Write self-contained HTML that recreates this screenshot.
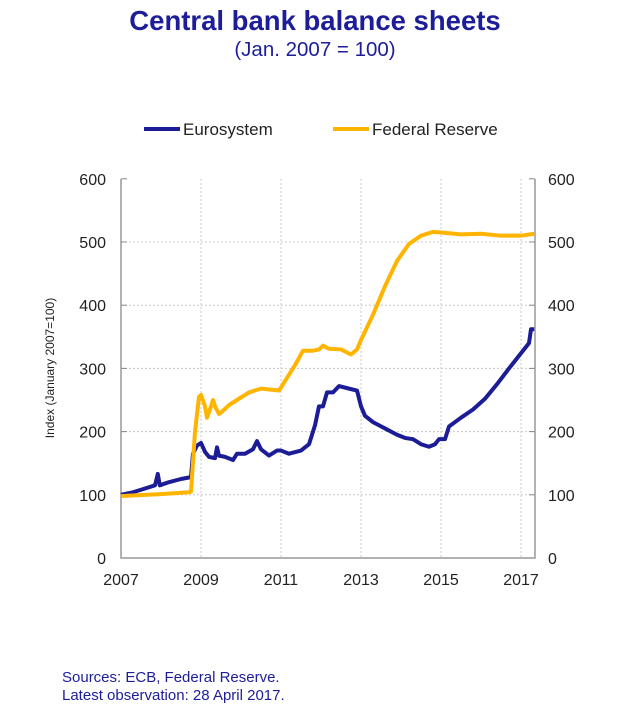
<!DOCTYPE html>
<html><head><meta charset="utf-8"><style>
body{margin:0;background:#fff;font-family:"Liberation Sans",sans-serif}
svg{display:block}
</style></head><body>
<svg id="chart" width="635" height="714">
<text x="315" y="30" text-anchor="middle" font-size="27.5" font-weight="bold" fill="#1d1d9a">Central bank balance sheets</text>
<text x="315" y="56" text-anchor="middle" font-size="20.5" fill="#1d1d9a">(Jan. 2007 = 100)</text>
<g>
<line x1="144" y1="129" x2="180" y2="129" stroke="#1c1c96" stroke-width="4"/>
<text x="183" y="135" font-size="17" fill="#222">Eurosystem</text>
<line x1="333" y1="129" x2="369" y2="129" stroke="#ffb400" stroke-width="4"/>
<text x="372" y="135" font-size="17" fill="#222">Federal Reserve</text>
</g>
<text transform="translate(54,368) rotate(-90)" text-anchor="middle" font-size="12" fill="#222">Index (January 2007=100)</text>
<g id="grid"></g><g id="axes"></g><g id="series"></g>
<text x="62" y="682" font-size="15" fill="#1d1d9a">Sources: ECB, Federal Reserve.</text>
<text x="62" y="700" font-size="15" fill="#1d1d9a">Latest observation: 28 April 2017.</text>
</svg>
<script>
const yTicks=[0,100,200,300,400,500,600];
const xTicks=[2007,2009,2011,2013,2015,2017];
const fedDates=[2007.0,2008.0,2008.7,2008.75,2008.85,2008.95,2009.0,2009.1,2009.15,2009.25,2009.3,2009.35,2009.45,2009.55,2009.7,2009.9,2010.2,2010.5,2010.8,2010.95,2011.1,2011.35,2011.55,2011.8,2011.95,2012.05,2012.2,2012.5,2012.75,2012.9,2013.0,2013.3,2013.6,2013.9,2014.2,2014.5,2014.8,2015.0,2015.5,2016.0,2016.5,2017.0,2017.33];
const fedValues=[98,101,104,105,200,255,258,240,222,240,250,240,228,233,242,250,262,268,266,265,280,305,328,328,330,336,331,330,322,330,345,385,430,470,497,510,516,515,512,513,510,510,513];
const euroDates=[2007.0,2007.3,2007.6,2007.85,2007.92,2007.97,2008.2,2008.5,2008.75,2008.8,2008.9,2009.0,2009.1,2009.2,2009.35,2009.4,2009.45,2009.6,2009.8,2009.9,2010.1,2010.3,2010.4,2010.5,2010.7,2010.9,2011.0,2011.2,2011.5,2011.7,2011.85,2011.95,2012.05,2012.15,2012.3,2012.45,2012.7,2012.9,2013.0,2013.1,2013.3,2013.6,2013.9,2014.1,2014.3,2014.5,2014.7,2014.85,2014.95,2015.1,2015.2,2015.5,2015.8,2016.1,2016.4,2016.7,2016.95,2017.2,2017.25,2017.33];
const euroValues=[100,104,110,115,133,115,120,125,128,165,178,182,168,160,158,175,162,160,155,165,165,172,185,172,162,170,170,165,170,180,210,240,240,262,262,272,268,265,240,225,215,205,195,190,188,180,176,180,188,188,208,222,235,252,275,300,320,340,362,362];
const X=d=>121+(d-2007)*40, Y=v=>558-v*0.632;
const ns="http://www.w3.org/2000/svg";
function mk(tag,attrs,parent){const e=document.createElementNS(ns,tag);for(const k in attrs)e.setAttribute(k,attrs[k]);document.getElementById(parent).appendChild(e);return e;}
yTicks.forEach(v=>{
 if(v>0&&v<600){const g=mk('line',{x1:121,x2:535,y1:Y(v),y2:Y(v),stroke:'#c8c8c8','stroke-dasharray':'2,2'},'grid');
 
 }
 const l=mk('text',{x:106,y:Y(v)+6,'text-anchor':'end','font-size':16,fill:'#222'},'axes');l.textContent=v;
 
 
 const r=mk('text',{x:548,y:Y(v)+6,'font-size':16,fill:'#222'},'axes');r.textContent=v;
 
 
 mk('line',{x1:121,x2:127,y1:Y(v),y2:Y(v),stroke:'#888'},'axes');
 mk('line',{x1:529,x2:535,y1:Y(v),y2:Y(v),stroke:'#888'},'axes');
});
xTicks.forEach(d=>{
 if(d>2007){const g=mk('line',{x1:X(d),x2:X(d),y1:179,y2:558,stroke:'#c8c8c8','stroke-dasharray':'2,2'},'grid');
 
 }
 const t=mk('text',{x:X(d),y:585,'text-anchor':'middle','font-size':16,fill:'#222'},'axes');t.textContent=d;
 
 
});
const ax=mk('path',{d:'M121,179V558H535V179',fill:'none',stroke:'#999','stroke-width':1.5},'axes');


function line(ds,vs,c,name){const p=mk('polyline',{points:ds.map((d,i)=>X(d)+','+Y(vs[i])).join(' '),fill:'none',stroke:c,'stroke-width':4,'stroke-linejoin':'round'},'series');
 
 }
line(euroDates,euroValues,'#1c1c96','eurosystem-line');
line(fedDates,fedValues,'#ffb400','federal-reserve-line');
</script>
</body></html>
